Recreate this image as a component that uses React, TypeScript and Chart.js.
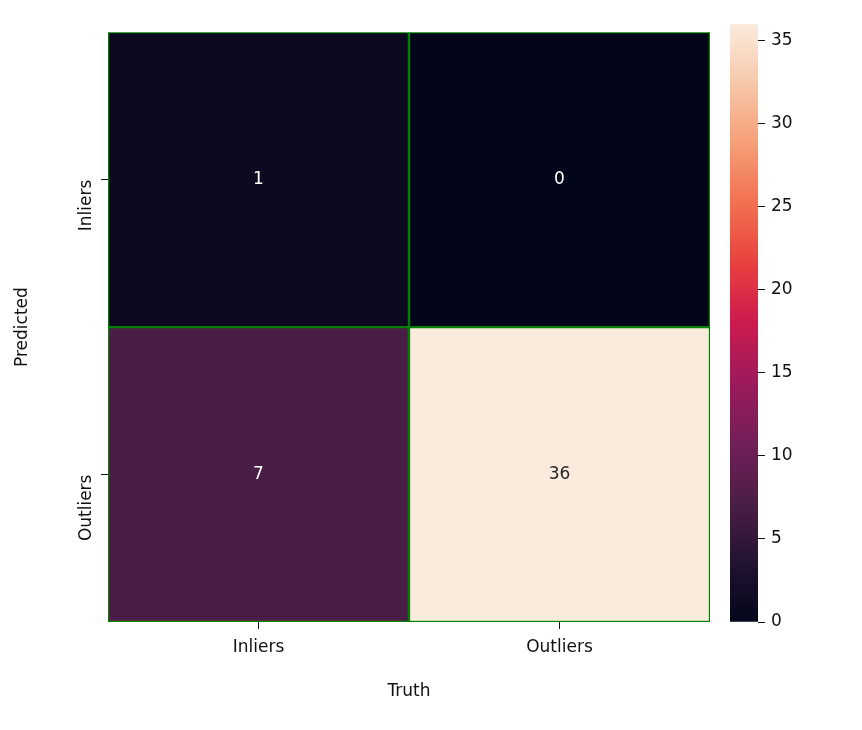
import { useEffect, useRef } from "react"
import { Chart, registerables } from "chart.js"

Chart.register(...registerables)

const truthLabels = ["Inliers", "Outliers"]
const predictedLabels = ["Inliers", "Outliers"]
// rows = predicted, columns = truth
const counts = [
  [1, 0],
  [7, 36],
]
const vmin = 0
const vmax = 36
const colorbarTicks = [0, 5, 10, 15, 20, 25, 30, 35]

const rocketStops: [number, string][] = [
  [0.0, "#03051a"],
  [0.1, "#221331"],
  [0.2, "#4b1e46"],
  [0.3, "#721f57"],
  [0.4, "#9d1a5b"],
  [0.5, "#cb1b4f"],
  [0.6, "#e8413e"],
  [0.7, "#f2704f"],
  [0.8, "#f59e77"],
  [0.9, "#f7c7a9"],
  [1.0, "#faebdd"],
]

function hex(c: string) {
  return [1, 3, 5].map((i) => parseInt(c.slice(i, i + 2), 16))
}

function rocket(v: number) {
  const t = Math.min(1, Math.max(0, (v - vmin) / (vmax - vmin)))
  for (let i = 1; i < rocketStops.length; i++) {
    const [t1, c1] = rocketStops[i]
    const [t0, c0] = rocketStops[i - 1]
    if (t <= t1) {
      const f = (t - t0) / (t1 - t0)
      const a = hex(c0)
      const b = hex(c1)
      const m = a.map((x, k) => Math.round(x + (b[k] - x) * f))
      return `rgb(${m[0]},${m[1]},${m[2]})`
    }
  }
  return rocketStops[rocketStops.length - 1][1]
}

const font = { family: "DejaVu Sans", size: 17 }
const ink = "#111"

export default function App() {
  const heatRef = useRef<HTMLCanvasElement | null>(null)
  const barRef = useRef<HTMLCanvasElement | null>(null)

  useEffect(() => {
    if (!heatRef.current || !barRef.current) return

    const annotate = {
      id: "annotate",
      afterDatasetsDraw(chart: any) {
        const ctx = chart.ctx
        ctx.save()
        ctx.font = "17px DejaVu Sans"
        ctx.textAlign = "center"
        ctx.textBaseline = "middle"
        chart.data.datasets.forEach((ds: any, r: number) => {
          chart.getDatasetMeta(r).data.forEach((el: any, c: number) => {
            const v = counts[r][c]
            ctx.fillStyle = v / vmax > 0.6 ? "#262626" : "#ffffff"
            const { x, y, base } = el.getProps(["x", "y", "base"], true)
            ctx.fillText(String(v), x, (y + base) / 2)
          })
        })
        ctx.restore()
      },
    }

    const heat = new Chart(heatRef.current, {
      type: "bar",
      data: {
        labels: truthLabels,
        datasets: counts.map((row, r) => ({
          data: row.map(() => [r, r + 1]),
          backgroundColor: row.map((v) => rocket(v)),
          borderColor: "#008000",
          borderWidth: 1.5,
          borderSkipped: false,
          barPercentage: 1,
          categoryPercentage: 1,
          grouped: false,
        })) as any,
      },
      options: {
        animation: false,
        responsive: false,
        layout: { padding: { top: 11, right: 10, bottom: 16 } },
        plugins: { legend: { display: false }, tooltip: { enabled: false } },
        scales: {
          x: {
            grid: { offset: false, drawOnChartArea: false, tickLength: 7, color: ink },
            border: { display: false },
            ticks: { color: ink, font, padding: 8 },
            title: { display: true, text: "Truth", color: ink, font, padding: { top: 4 } },
            afterFit: (s: any) => { s.height = 84 },
          },
          y: {
            min: 0,
            max: 2,
            reverse: true,
            afterBuildTicks: (s: any) => { s.ticks = [{ value: 0.5 }, { value: 1.5 }] },
            grid: { drawOnChartArea: false, tickLength: 7, color: ink },
            border: { display: false },
            ticks: {
              color: ink,
              font,
              padding: 14,
              minRotation: 90,
              maxRotation: 90,
              callback: (v: any) => predictedLabels[Math.floor(Number(v))],
            },
            title: { display: true, text: "Predicted", color: ink, font, padding: { bottom: 10 } },
            afterFit: (s: any) => { s.width = 100 },
          },
        },
      },
      plugins: [annotate],
    })

    const bar = new Chart(barRef.current, {
      type: "bar",
      data: {
        labels: [""],
        datasets: [
          {
            data: [[vmin, vmax]] as any,
            backgroundColor: (c: any) => {
              const area = c.chart.chartArea
              if (!area) return "#000"
              const g = c.chart.ctx.createLinearGradient(0, area.bottom, 0, area.top)
              rocketStops.forEach(([t, col]) => g.addColorStop(t, col))
              return g
            },
            barPercentage: 1,
            categoryPercentage: 1,
          },
        ],
      },
      options: {
        animation: false,
        responsive: false,
        layout: { padding: { top: 11, left: 10, bottom: 100 } },
        plugins: { legend: { display: false }, tooltip: { enabled: false } },
        scales: {
          x: { display: false },
          y: {
            position: "right",
            min: vmin,
            max: vmax,
            afterBuildTicks: (s: any) => { s.ticks = colorbarTicks.map((value) => ({ value })) },
            grid: { drawOnChartArea: false, tickLength: 7, color: ink },
            border: { display: false },
            ticks: { color: ink, font, padding: 6 },
            afterFit: (s: any) => { s.width = 96 },
          },
        },
      },
    })

    return () => {
      heat.destroy()
      bar.destroy()
    }
  }, [])

  return (
    <div style={{ position: "relative", width: 846, height: 714 }}>
      <canvas ref={heatRef} width={712} height={714} style={{ position: "absolute", left: 0, top: 0 }} />
      <canvas ref={barRef} width={134} height={714} style={{ position: "absolute", left: 712, top: 0 }} />
    </div>
  )
}
